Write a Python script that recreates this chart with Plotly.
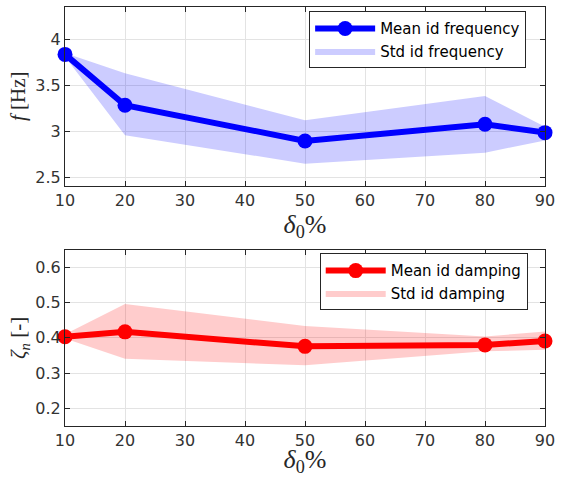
import plotly.graph_objects as go

# Initial deformation levels (percent)
delta0 = [10, 20, 50, 80, 90]

# Identified frequency statistics
freq_mean = [3.835, 3.283, 2.895, 3.076, 2.985]
freq_upper = [3.85, 3.63, 3.12, 3.384, 3.05]
freq_lower = [3.81, 2.957, 2.648, 2.767, 2.90]

# Identified damping statistics
damp_mean = [0.403, 0.417, 0.376, 0.380, 0.391]
damp_upper = [0.41, 0.496, 0.434, 0.404, 0.418]
damp_lower = [0.398, 0.341, 0.322, 0.362, 0.366]

freq_yticks = [2.5, 3, 3.5, 4]
damp_yticks = [0.2, 0.3, 0.4, 0.5, 0.6]
x_ticks = [10, 20, 30, 40, 50, 60, 70, 80, 90]

AX_COLOR = "#262626"
GRID = "#e3e3e3"
TICK_FONT = dict(family="DejaVu Sans", size=16, color="#333333")
TITLE_FONT = dict(family="Liberation Serif", size=21, color="#262626")
XTITLE_FONT = dict(family="Liberation Serif", size=26, color="#262626")
LEG_FONT = dict(family="DejaVu Sans", size=15, color="#000000")

fig = go.Figure()

# Frequency: std band then mean line
fig.add_trace(go.Scatter(
    x=delta0 + delta0[::-1], y=freq_upper + freq_lower[::-1],
    fill="toself", fillcolor="rgba(0,0,255,0.2)", line=dict(width=0),
    mode="lines", name="Std id frequency", xaxis="x", yaxis="y",
    legend="legend", hoverinfo="skip"))
fig.add_trace(go.Scatter(
    x=delta0, y=freq_mean, mode="lines+markers", name="Mean id frequency",
    line=dict(color="#0000ff", width=6), marker=dict(color="#0000ff", size=15),
    cliponaxis=False, xaxis="x", yaxis="y", legend="legend"))

# Damping: std band then mean line
fig.add_trace(go.Scatter(
    x=delta0 + delta0[::-1], y=damp_upper + damp_lower[::-1],
    fill="toself", fillcolor="rgba(255,0,0,0.2)", line=dict(width=0),
    mode="lines", name="Std id damping", xaxis="x2", yaxis="y2",
    legend="legend2", hoverinfo="skip"))
fig.add_trace(go.Scatter(
    x=delta0, y=damp_mean, mode="lines+markers", name="Mean id damping",
    line=dict(color="#ff0000", width=6), marker=dict(color="#ff0000", size=15),
    cliponaxis=False, xaxis="x2", yaxis="y2", legend="legend2"))

common_x = dict(range=[10, 90], tickvals=x_ticks, showgrid=True, gridcolor=GRID,
                showline=True, linecolor=AX_COLOR, linewidth=1, mirror="allticks",
                ticks="inside", ticklen=5, tickcolor=AX_COLOR, tickfont=TICK_FONT,
                zeroline=False, title=dict(text="<i>δ</i><sub>0</sub>%",
                                           font=XTITLE_FONT, standoff=0))
common_y = dict(showgrid=True, gridcolor=GRID, showline=True, linecolor=AX_COLOR,
                linewidth=1, mirror="allticks", ticks="inside", ticklen=5,
                tickcolor=AX_COLOR, tickfont=TICK_FONT, zeroline=False)

legend_common = dict(bgcolor="white", bordercolor="#262626", borderwidth=1,
                     font=LEG_FONT, xanchor="right", yanchor="top",
                     itemwidth=60, tracegroupgap=0, traceorder="reversed")

fig.update_layout(
    width=561, height=477,
    margin=dict(l=65, r=12, t=6, b=51),
    paper_bgcolor="white", plot_bgcolor="white",
    xaxis=dict(domain=[0, 1], anchor="y", **common_x),
    yaxis=dict(domain=[0.5738, 1.0], anchor="x", range=[2.41, 4.35],
               tickvals=freq_yticks,
               title=dict(text="<i>f</i> [Hz]", font=TITLE_FONT, standoff=3),
               **common_y),
    xaxis2=dict(domain=[0, 1], anchor="y2", **common_x),
    yaxis2=dict(domain=[0, 0.4207], anchor="x2", range=[0.15, 0.65],
                tickvals=damp_yticks,
                title=dict(text="<i>ζ<sub>n</sub></i> [-]", font=TITLE_FONT, standoff=3),
                **common_y),
    legend=dict(x=0.9607, y=0.99, **legend_common),
    legend2=dict(x=0.964, y=0.412, **legend_common),
    showlegend=True,
)

fig.write_html("out.html")
